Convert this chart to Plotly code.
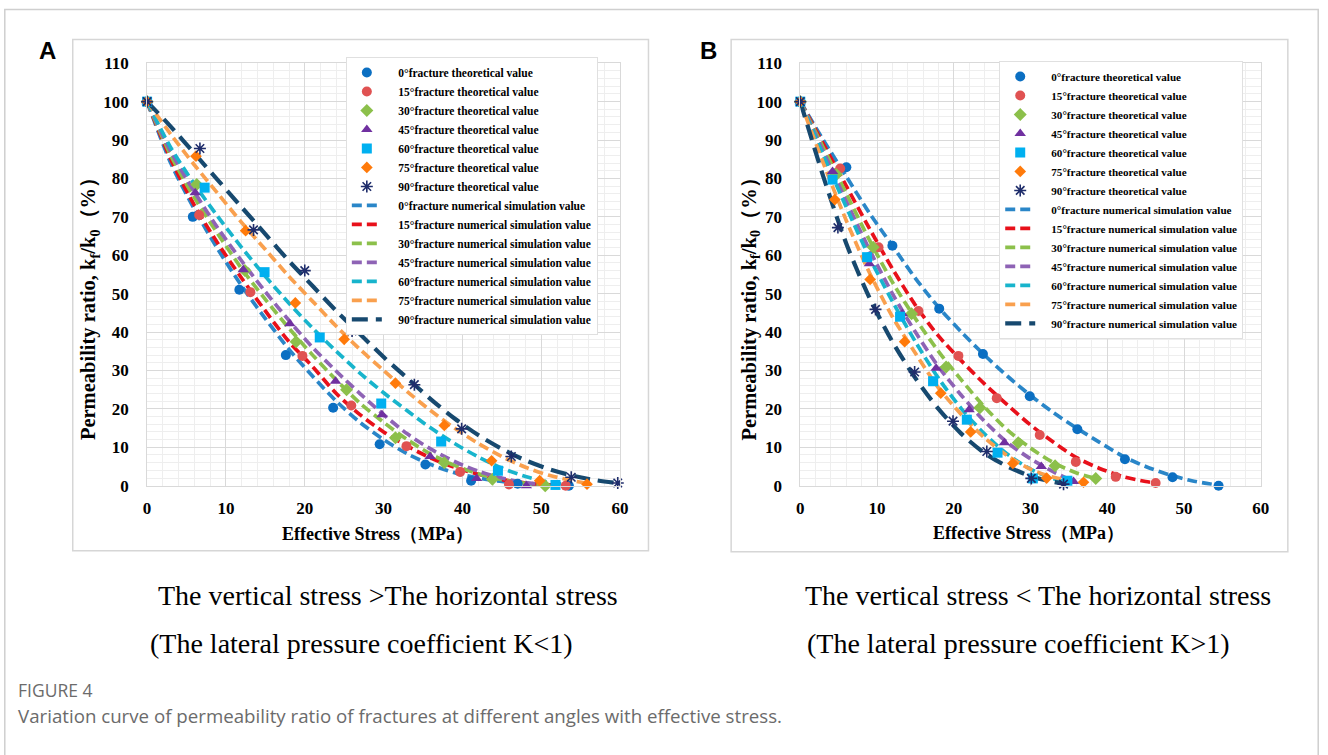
import plotly.graph_objects as go

W, H = 1328, 755
# the photographed page shows the figure offset by the 8 px body margin and
# scaled by these factors; positions taken from the reference are mapped back.
SX, SY, M = 1328 / 1344, 755 / 771, 8

# ---------------- data: panel A (K<1) theoretical ----------------
a_t0_x = [0, 5.8, 11.7, 17.6, 23.6, 29.5, 35.3, 41.1, 47.0, 53.5]
a_t0_y = [100, 70, 51, 34, 20.3, 10.8, 5.5, 1.3, 0.5, 0]
a_t15_x = [0, 6.6, 13.1, 19.7, 25.9, 32.9, 39.7, 45.9, 53.1]
a_t15_y = [100, 70.5, 50.4, 33.8, 20.9, 10.3, 3.6, 0.3, 0]
a_t30_x = [0, 6.3, 12.4, 18.9, 25.3, 31.5, 37.7, 43.8, 50.5]
a_t30_y = [100, 78.4, 56, 37.5, 25, 12.5, 6, 1.7, 0]
a_t45_x = [0, 6.1, 12.2, 18.1, 23.9, 29.8, 35.9, 41.8, 48.1]
a_t45_y = [100, 76.3, 56.2, 42.2, 27.2, 18.5, 7.6, 1.9, 0]
a_t60_x = [0, 7.3, 14.9, 21.9, 29.7, 37.3, 44.5, 51.8]
a_t60_y = [100, 77.6, 55.6, 38.6, 21.4, 11.5, 3.9, 0.2]
a_t75_x = [0, 6.2, 12.5, 18.8, 25.0, 31.5, 37.7, 43.7, 49.8, 55.8]
a_t75_y = [100, 85.8, 66.4, 47.6, 38.1, 26.7, 15.7, 6.5, 1.3, 0.4]
a_t90_x = [0, 6.7, 13.5, 20.0, 26.0, 33.9, 39.9, 46.2, 53.8, 59.7]
a_t90_y = [100, 87.8, 66.6, 56.0, 40.3, 26.3, 14.8, 7.6, 2.2, 0.7]

# ---------------- panel A numerical simulation ----------------
a_s0_x = [0, 3, 6, 9, 12, 15, 18, 21, 24, 27, 30, 33, 36, 39, 42, 45, 48, 52]
a_s0_y = [100, 84, 72, 61.5, 52, 43.5, 35.5, 28.5, 22, 16.5, 12, 8.3, 5.5, 3.4, 2, 1.1, 0.5, 0]
a_s15_x = [0, 3, 6, 9, 12, 15, 18, 21, 24, 27, 30, 33, 36, 39, 42, 45, 48, 51, 53]
a_s15_y = [100, 85, 73, 63, 54, 45.5, 37.5, 31, 24, 18.5, 14, 10.3, 7.2, 4.8, 3, 1.6, 0.7, 0.2, 0]
a_s30_x = [0, 3, 6, 9, 12, 15, 18, 21, 24, 27, 30, 33, 36, 39, 42, 45, 48, 51]
a_s30_y = [100, 86, 75, 65.5, 56.5, 48.5, 41, 34, 27.5, 21.5, 16.5, 12, 8.2, 5.3, 3.1, 1.6, 0.6, 0.1]
a_s45_x = [0, 3, 6, 9, 12, 15, 18, 21, 24, 27, 30, 33, 36, 39, 42, 45, 48, 51]
a_s45_y = [100, 87, 76.5, 67, 58.5, 50.5, 43, 36, 29.8, 24, 18.5, 13.5, 9.5, 6.3, 3.8, 2, 0.8, 0.2]
a_s60_x = [0, 3, 6, 9, 12, 15, 18, 21, 24, 27, 30, 33, 36, 39, 42, 45, 48, 51, 54]
a_s60_y = [100, 88, 78.5, 70, 62, 54.5, 47.5, 41, 35, 29.3, 24.2, 19.5, 15, 11, 7.5, 4.6, 2.4, 0.9, 0.2]
a_s75_x = [0, 3, 6, 9, 12, 15, 18, 21, 24, 27, 30, 33, 36, 39, 42, 45, 48, 51, 54, 56]
a_s75_y = [100, 91.5, 83.5, 76, 68.5, 61.5, 54.5, 48, 41.5, 35.5, 30, 24.5, 19.5, 15, 11, 7.6, 4.8, 2.7, 1.3, 0.5]
a_s90_x = [0, 3, 6, 9, 12, 15, 18, 21, 24, 27, 30, 33, 36, 39, 42, 45, 48, 51, 54, 57, 60]
a_s90_y = [100, 93.5, 86.5, 79.5, 72.5, 65.5, 58.5, 52, 45.5, 39.5, 33.5, 28, 22.5, 17.5, 13.2, 9.6, 6.6, 4.3, 2.6, 1.4, 0.6]

# ---------------- data: panel B (K>1) theoretical ----------------
b_t0_x = [0, 6.0, 12.0, 18.1, 23.8, 29.9, 36.1, 42.3, 48.5, 54.5]
b_t0_y = [100, 82.9, 62.5, 46.1, 34.3, 23.3, 14.7, 6.9, 2.2, 0]
b_t15_x = [0, 5.2, 10.2, 15.4, 20.6, 25.6, 31.2, 35.9, 41.1, 46.3]
b_t15_y = [100, 82.6, 62.1, 45.5, 33.8, 22.8, 13.2, 6.2, 2.3, 0.7]
b_t30_x = [0, 4.7, 9.5, 14.5, 19.0, 23.4, 28.4, 33.2, 38.5]
b_t30_y = [100, 81, 62.1, 44.8, 30.9, 20.3, 11.2, 5.2, 1.9]
b_t45_x = [0, 4.2, 9.0, 13.3, 17.7, 22.0, 26.6, 31.4, 35.6]
b_t45_y = [100, 81.8, 57.8, 44.8, 30.6, 19.8, 11.2, 5.0, 1.1]
b_t60_x = [0, 4.2, 8.7, 13.0, 17.3, 21.7, 25.7, 30.3, 34.8]
b_t60_y = [100, 79.7, 59.5, 44.0, 27.2, 17.2, 8.6, 1.9, 1.3]
b_t75_x = [0, 4.5, 9.1, 13.6, 18.3, 22.2, 27.7, 32.1, 36.9]
b_t75_y = [100, 74.5, 53.7, 37.5, 24.1, 14.0, 5.8, 2.0, 0.9]
b_t90_x = [0, 4.9, 9.8, 14.9, 19.9, 24.3, 30.1, 34.3]
b_t90_y = [100, 67.2, 45.9, 29.6, 16.8, 8.9, 1.9, 0.4]

# ---------------- panel B numerical simulation ----------------
b_s0_x = [0, 3, 6, 9, 12, 15, 18, 21, 24, 27, 30, 33, 36, 39, 42, 45, 48, 51, 54.5]
b_s0_y = [100, 90, 80.5, 71, 62.5, 54, 46.5, 40, 34, 28.5, 23.5, 19, 15, 11.3, 7.7, 5, 2.9, 1.3, 0.1]
b_s15_x = [0, 3, 6, 9, 12, 15, 18, 21, 24, 27, 30, 33, 36, 39, 42, 45, 46.3]
b_s15_y = [100, 89, 78, 67, 56.5, 47, 39, 32.5, 26.5, 21, 15.8, 11.3, 7.3, 4.5, 2.4, 1.1, 0.7]
b_s30_x = [0, 3, 6, 9, 12, 15, 18, 21, 24, 27, 30, 33, 36, 38.5]
b_s30_y = [100, 88, 76, 64, 53, 43.5, 35, 27.5, 20.5, 14.5, 9.8, 6, 3.3, 1.9]
b_s45_x = [0, 3, 6, 9, 12, 15, 18, 21, 24, 27, 30, 33, 35.6]
b_s45_y = [100, 87, 74, 61.5, 50, 40, 31, 23.5, 16.8, 11.2, 7, 3.6, 1.1]
b_s60_x = [0, 3, 6, 9, 12, 15, 18, 21, 24, 27, 30, 33, 35]
b_s60_y = [100, 86, 72.5, 59.5, 48, 37.5, 28, 20, 13.5, 8.2, 4.3, 1.8, 1.0]
b_s75_x = [0, 3, 6, 9, 12, 15, 18, 21, 24, 27, 30, 33, 37]
b_s75_y = [100, 84, 69, 55.5, 44, 34.5, 25.5, 18.5, 12.5, 7.8, 4.3, 2.2, 0.8]
b_s90_x = [0, 3, 6, 9, 12, 15, 18, 21, 24, 27, 30, 33, 34.5]
b_s90_y = [100, 80.5, 63, 49, 37.5, 28, 20, 13.5, 8.5, 5, 2.5, 1, 0.5]

angles = ["0°", "15°", "30°", "45°", "60°", "75°", "90°"]
x_ticks = [0, 10, 20, 30, 40, 50, 60]
y_ticks = [0, 10, 20, 30, 40, 50, 60, 70, 80, 90, 100, 110]

# ---------------- styles ----------------
pt_colors = ["#0B6FC2", "#E05252", "#8CC04B", "#7030A0", "#00B0F0", "#FF7A0A", "#1F2D6B"]
ln_colors = ["#2A86C8", "#E8101A", "#8CC04B", "#8E63B5", "#18B4CC", "#F9A04E", "#17496F"]
symbols = ["circle", "circle", "diamond", "triangle-up", "square", "diamond", "asterisk-open"]
SERIF = "Liberation Serif"
GAP = '<span style="color:rgba(0,0,0,0)">00</span>'

A_theo = [(a_t0_x, a_t0_y), (a_t15_x, a_t15_y), (a_t30_x, a_t30_y), (a_t45_x, a_t45_y),
          (a_t60_x, a_t60_y), (a_t75_x, a_t75_y), (a_t90_x, a_t90_y)]
A_sim = [(a_s0_x, a_s0_y), (a_s15_x, a_s15_y), (a_s30_x, a_s30_y), (a_s45_x, a_s45_y),
         (a_s60_x, a_s60_y), (a_s75_x, a_s75_y), (a_s90_x, a_s90_y)]
B_theo = [(b_t0_x, b_t0_y), (b_t15_x, b_t15_y), (b_t30_x, b_t30_y), (b_t45_x, b_t45_y),
          (b_t60_x, b_t60_y), (b_t75_x, b_t75_y), (b_t90_x, b_t90_y)]
B_sim = [(b_s0_x, b_s0_y), (b_s15_x, b_s15_y), (b_s30_x, b_s30_y), (b_s45_x, b_s45_y),
         (b_s60_x, b_s60_y), (b_s75_x, b_s75_y), (b_s90_x, b_s90_y)]


def fx(p):
    return (p / SX - M) / W


def fy(p):
    return 1 - (p / SY - M) / H


fig = go.Figure()


def add_panel(theo, sim, xa, ya, leg):
    for i in range(7):
        sx, sy = sim[i]
        dash = "16px,8px" if i == 6 else "10px,5px"
        fig.add_trace(go.Scatter(
            x=sx, y=sy, mode="lines", xaxis=xa, yaxis=ya, legend=leg,
            name=f"{GAP}{angles[i]}fracture numerical simulation value",
            line=dict(color=ln_colors[i], width=4.2 if i == 6 else 3.7, dash=dash,
                      shape="spline", smoothing=0.8),
            legendrank=100 + i, hoverinfo="skip"))
    for i in range(7):
        tx, ty = theo[i]
        if symbols[i] == "asterisk-open":
            mk = dict(symbol=symbols[i], size=10, color=pt_colors[i],
                      line=dict(color=pt_colors[i], width=1.6))
        else:
            mk = dict(symbol=symbols[i], size=10 if i != 5 else 9, color=pt_colors[i],
                      line=dict(width=0))
        fig.add_trace(go.Scatter(
            x=tx, y=ty, mode="markers", xaxis=xa, yaxis=ya, legend=leg,
            name=f"{GAP}{angles[i]}fracture theoretical value", marker=mk,
            cliponaxis=False, legendrank=i, hoverinfo="skip"))


add_panel(A_theo, A_sim, "x", "y", "legend")
add_panel(B_theo, B_sim, "x2", "y2", "legend2")

axis_common = dict(
    showgrid=True, gridcolor="#d9d9d9", gridwidth=1,
    zeroline=False, showline=True, mirror=True, linecolor="#d9d9d9", linewidth=1,
    ticks="", tickfont=dict(family=SERIF, size=17, color="black", weight="bold"),
    minor=dict(showgrid=True, gridcolor="#eeeeee", gridwidth=1, dtick=2),
    fixedrange=True,
)

ydom = [fy(486.7), fy(62.3)]
fig.update_layout(
    width=W, height=H, autosize=False,
    margin=dict(l=0, r=0, t=0, b=0),
    paper_bgcolor="white", plot_bgcolor="white",
    xaxis=dict(domain=[fx(150.7), fx(622.7)], range=[0, 60], tickvals=x_ticks,
               anchor="y", ticklabelstandoff=7, **axis_common),
    yaxis=dict(domain=ydom, range=[0, 110], tickvals=y_ticks, anchor="x",
               ticklabelstandoff=14, **axis_common),
    xaxis2=dict(domain=[fx(802.5), fx(1262)], range=[0, 60], tickvals=x_ticks,
                anchor="y2", ticklabelstandoff=7, **axis_common),
    yaxis2=dict(domain=ydom, range=[0, 110], tickvals=y_ticks, anchor="x2",
                ticklabelstandoff=14, **axis_common),
    legend=dict(x=fx(349), y=fy(56), xanchor="left", yanchor="top",
                bgcolor="white", bordercolor="#e0e0e0", borderwidth=1,
                font=dict(family=SERIF, size=11.5, color="black", weight="bold"),
                tracegroupgap=0),
    legend2=dict(x=fx(1001), y=fy(60), xanchor="left", yanchor="top",
                 bgcolor="white", bordercolor="#e0e0e0", borderwidth=1,
                 font=dict(family=SERIF, size=11.1, color="black", weight="bold"),
                 tracegroupgap=0),
    showlegend=True,
)

# frames
shapes = [
    dict(type="rect", xref="paper", yref="paper", x0=0.0006, x1=0.9994, y0=-0.05, y1=0.9993,
         line=dict(color="#cfcfcf", width=1.5), layer="below"),
    dict(type="rect", xref="paper", yref="paper", x0=fx(76.5), x1=fx(651), y0=fy(552), y1=fy(38.5),
         line=dict(color="#d6d6d6", width=1.5), layer="below"),
    dict(type="rect", xref="paper", yref="paper", x0=fx(733.5), x1=fx(1289), y0=fy(553), y1=fy(38.5),
         line=dict(color="#d6d6d6", width=1.5), layer="below"),
]
fig.update_layout(shapes=shapes)


def note(x, y, text, family, size, color="black", xanchor="center"):
    return dict(x=fx(x), y=fy(y), xref="paper", yref="paper", text=text,
                showarrow=False, xanchor=xanchor, yanchor="middle",
                font=dict(family=family, size=size, color=color))


ytitle = "<b>Permeability ratio, k<sub>f</sub>/k<sub>0</sub>（%）</b>"
xtitle = "<b>Effective Stress（MPa）</b>"
ann = [
    note(381, 535, xtitle, SERIF, 18),
    note(1030, 534, xtitle, SERIF, 18),
    note(51, 50, "<b>A</b>", "Liberation Sans", 24),
    note(711, 50, "<b>B</b>", "Liberation Sans", 24),
    note(391, 597, "The vertical stress >The horizontal stress", SERIF, 28),
    note(365, 645, "(The lateral pressure coefficient K<1)", SERIF, 28),
    note(1040, 597, "The vertical stress < The horizontal stress", SERIF, 28),
    note(1020, 645, "(The lateral pressure coefficient K>1)", SERIF, 28),
    note(20, 692, "FIGURE 4", "Open Sans", 17.5, "#6b6b6b", "left"),
    note(20, 718, "Variation curve of permeability ratio of fractures at different angles with effective stress.",
         "Open Sans", 18.7, "#6b6b6b", "left"),
]
for cx in (94, 753):
    a = note(cx, 304, ytitle, SERIF, 20.5)
    a["textangle"] = -90
    ann.append(a)
fig.update_layout(annotations=ann)

fig.write_html("out.html")
